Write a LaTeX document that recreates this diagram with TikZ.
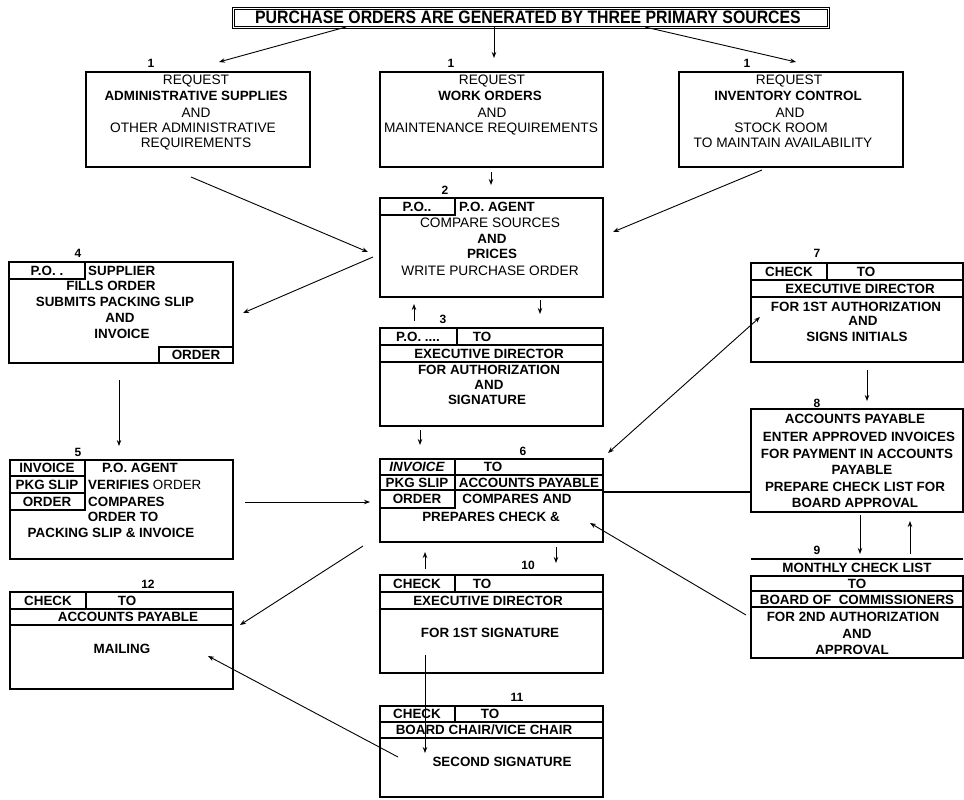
\documentclass[tikz,border=0pt]{standalone}
\usepackage{fontspec}
\setmainfont{Liberation Sans}
\usetikzlibrary{arrows.meta}
\newcommand\bxat[5]{\node[bx,minimum width=#4pt,minimum height=#5pt] (#1) at (#2,#3) {};}
\newcommand\clat[5]{\node[cellbox,minimum width=#4pt,minimum height=#5pt] (#1) at (#2,#3) {};}
\begin{document}
\begin{tikzpicture}[x=1pt,y=-1pt,
  bx/.style={draw, line width=1.4pt, inner sep=0pt, outer sep=0pt, anchor=north west},
  cellbox/.style={draw, line width=1.1pt, inner sep=0pt, outer sep=0pt, anchor=north west},
  t/.style={font=\fontsize{13.4}{15}\selectfont\bfseries, inner sep=0pt, text height=9.5pt, text depth=0pt},
  tr/.style={font=\fontsize{13.7}{15}\selectfont, inner sep=0pt, text height=9.7pt, text depth=0pt},
  lbl/.style={font=\fontsize{12}{14}\selectfont\bfseries, inner sep=0pt, text height=8.6pt, text depth=0pt},
  arr/.style={line width=0.9pt, -{Stealth[length=6pt,width=4.5pt]}},
  darr/.style={line width=0.9pt, {Stealth[length=6pt,width=4.5pt]}-{Stealth[length=6pt,width=4.5pt]}},
]
\fill[white] (0,0) rectangle (964,800);
\useasboundingbox (0,0) rectangle (964,800);

% ---------- title ----------
\node[draw, double, double distance=1.2pt, line width=0.9pt, anchor=north west, minimum width=595pt, minimum height=19pt, inner sep=0pt] (title) at (233,8) {};
\node[inner sep=0pt, font=\fontsize{18}{18}\selectfont\bfseries] (titletxt) at (528,17.5) {\scalebox{0.88}[1]{PURCHASE ORDERS ARE GENERATED BY THREE PRIMARY SOURCES}};

% ---------- row 1 ----------
\node[lbl] (l1a) at (151,63) {1};
\node[lbl] (l1b) at (451,63) {1};
\node[lbl] (l1c) at (747,63) {1};
\bxat{b1a}{86}{72}{224}{95}
\bxat{b1b}{380}{72}{223}{95}
\bxat{b1c}{679}{72}{224}{95}
\node[tr] (b1a1) at (196,80) {REQUEST};
\node[t]  (b1a2) at (196,96) {ADMINISTRATIVE SUPPLIES};
\node[tr] (b1a3) at (196,113) {AND};
\node[tr] (b1a4) at (193,128) {OTHER ADMINISTRATIVE};
\node[tr] (b1a5) at (196,143) {REQUIREMENTS};
\node[tr] (b1b1) at (492,80) {REQUEST};
\node[t]  (b1b2) at (490,96) {WORK ORDERS};
\node[tr] (b1b3) at (492,113) {AND};
\node[tr] (b1b4) at (491,128) {MAINTENANCE REQUIREMENTS};
\node[tr] (b1c1) at (789,80) {REQUEST};
\node[t]  (b1c2) at (788,96) {INVENTORY CONTROL};
\node[tr] (b1c3) at (790,113) {AND};
\node[tr] (b1c4) at (781,128) {STOCK ROOM};
\node[tr] (b1c5) at (783,143) {TO MAINTAIN AVAILABILITY};

% ---------- box 2 ----------
\node[lbl] (l2) at (445,190) {2};
\bxat{b2}{380}{198}{223}{99}
\clat{c2}{380}{198}{75}{17}
\node[t] (c2t) at (417,206.5) {P.O..};
\node[t, anchor=west] (b2h) at (459,206.5) {P.O. AGENT};
\node[tr] (b22) at (490,223) {COMPARE SOURCES};
\node[t]  (b23) at (492,239) {AND};
\node[t]  (b24) at (492,254) {PRICES};
\node[tr] (b25) at (490,271) {WRITE PURCHASE ORDER};

% ---------- box 4 ----------
\node[lbl] (l4) at (78,253) {4};
\bxat{b4}{9}{262}{224}{101}
\clat{c4a}{9}{262}{76}{17}
\clat{c4b}{159}{347}{74}{16}
\node[t] (c4at) at (47,270.5) {P.O. .};
\node[t, anchor=west] (b4h) at (88,270.5) {SUPPLIER};
\node[t] (b42) at (111,286) {FILLS ORDER};
\node[t] (b43) at (115,302) {SUBMITS PACKING SLIP};
\node[t] (b44) at (120,318) {AND};
\node[t] (b45) at (122,334) {INVOICE};
\node[t] (c4bt) at (196,355) {ORDER};

% ---------- box 3 ----------
\node[lbl] (l3) at (443,319) {3};
\bxat{b3}{380}{328}{223}{98}
\clat{r3a}{380}{328}{223}{17}
\clat{c3}{380}{328}{77}{17}
\clat{r3b}{380}{345}{223}{17}
\node[t] (c3t) at (418,336.5) {P.O. ....};
\node[t] (b3to) at (482,336.5) {TO};
\node[t] (b32) at (489,353.5) {EXECUTIVE DIRECTOR};
\node[t] (b33) at (489,369.5) {FOR AUTHORIZATION};
\node[t] (b34) at (489,384.5) {AND};
\node[t] (b35) at (487,400) {SIGNATURE};

% ---------- box 7 ----------
\node[lbl] (l7) at (817,253) {7};
\bxat{b7}{751}{263}{212}{99}
\clat{r7a}{751}{263}{212}{17}
\clat{c7}{751}{263}{76}{17}
\clat{r7b}{751}{280}{212}{17}
\node[t] (c7t) at (789,271.5) {CHECK};
\node[t] (b7to) at (866,271.5) {TO};
\node[t] (b72) at (860,288.5) {EXECUTIVE DIRECTOR};
\node[t] (b73) at (856,307) {FOR 1ST AUTHORIZATION};
\node[t] (b74) at (863,321) {AND};
\node[t] (b75) at (857,337) {SIGNS INITIALS};

% ---------- box 8 ----------
\node[lbl] (l8) at (817,403) {8};
\bxat{b8}{751}{409}{212}{103}
\node[t] (b81) at (855,419) {ACCOUNTS PAYABLE};
\node[t] (b82) at (859,437) {ENTER APPROVED INVOICES};
\node[t] (b83) at (857,454) {FOR PAYMENT IN ACCOUNTS};
\node[t] (b84) at (862,470) {PAYABLE};
\node[t] (b85) at (855,487) {PREPARE CHECK LIST FOR};
\node[t] (b86) at (855,503) {BOARD APPROVAL};

% ---------- box 9 ----------
\node[lbl] (l9) at (817,550) {9};
\coordinate (b9l) at (751,559);
\coordinate (b9r) at (963,559);
\draw[line width=1.4pt] (b9l) -- (b9r);
\node[t] (b9c) at (857,567.5) {MONTHLY CHECK LIST};
\bxat{b9}{751}{576}{212}{82}
\clat{r9a}{751}{576}{212}{15}
\clat{r9b}{751}{591}{212}{16}
\node[t] (b9to) at (857,583.5) {TO};
\node[t] (b92) at (857,599.5) {BOARD OF\ \ COMMISSIONERS};
\node[t] (b93) at (853,617) {FOR 2ND AUTHORIZATION};
\node[t] (b94) at (857,634) {AND};
\node[t] (b95) at (852,650) {APPROVAL};

% ---------- box 5 ----------
\node[lbl] (l5) at (78,452) {5};
\bxat{b5}{10}{460}{223}{99}
\clat{c5a}{10}{460}{75}{16}
\clat{c5b}{10}{476}{75}{17}
\clat{c5c}{10}{493}{75}{17}
\node[t] (c5at) at (47,468) {INVOICE};
\node[t] (c5bt) at (47,484.5) {PKG SLIP};
\node[t] (c5ct) at (47,501.5) {ORDER};
\node[t] (b5h) at (140,468) {P.O. AGENT};
\node[anchor=west, inner sep=0pt, text height=9.5pt, text depth=0pt, font=\fontsize{13.4}{15}\selectfont] (b52) at (88,484.5) {\textbf{VERIFIES} ORDER};
\node[t, anchor=west] (b53) at (88,501.5) {COMPARES};
\node[t] (b54) at (123,517) {ORDER TO};
\node[t] (b55) at (111,533) {PACKING SLIP \& INVOICE};

% ---------- box 6 ----------
\node[lbl] (l6) at (523,451) {6};
\bxat{b6}{380}{459}{223}{83}
\clat{r6a}{380}{475}{223}{15}
\clat{c6a}{380}{459}{75}{16}
\clat{c6b}{380}{475}{75}{15}
\clat{c6c}{380}{490}{75}{18}
\node[t, font=\fontsize{13.4}{15}\selectfont\bfseries\itshape] (c6at) at (417,467) {INVOICE};
\node[t] (c6bt) at (417,482.5) {PKG SLIP};
\node[t] (c6ct) at (417,499) {ORDER};
\node[t] (b6to) at (493,467) {TO};
\node[t] (b62) at (529,482.5) {ACCOUNTS PAYABLE};
\node[t] (b63) at (517,499) {COMPARES AND};
\node[t] (b64) at (491,517) {PREPARES CHECK \&};

% ---------- box 12 ----------
\node[lbl] (l12) at (148,584) {12};
\bxat{b12}{10}{592}{223}{97}
\clat{r12a}{10}{592}{223}{17}
\clat{c12}{10}{592}{76}{17}
\clat{r12b}{10}{609}{223}{16}
\node[t] (c12t) at (48,600.5) {CHECK};
\node[t] (b12to) at (127,600.5) {TO};
\node[t] (b122) at (128,617) {ACCOUNTS PAYABLE};
\node[t] (b123) at (122,649) {MAILING};

% ---------- box 10 ----------
\node[lbl] (l10) at (528,565) {10};
\bxat{b10}{380}{575}{223}{98}
\clat{r10a}{380}{575}{223}{17}
\clat{c10}{380}{575}{75}{17}
\clat{r10b}{380}{592}{223}{17}
\node[t] (c10t) at (417,583.5) {CHECK};
\node[t] (b10to) at (482,583.5) {TO};
\node[t] (b102) at (488,600.5) {EXECUTIVE DIRECTOR};
\node[t] (b103) at (490,633) {FOR 1ST SIGNATURE};

% ---------- box 11 ----------
\node[lbl] (l11) at (517,697) {11};
\bxat{b11}{380}{706}{223}{91}
\clat{r11a}{380}{706}{223}{16}
\clat{c11}{380}{706}{75}{16}
\clat{r11b}{380}{722}{223}{16}
\node[t] (c11t) at (417,714) {CHECK};
\node[t] (b11to) at (490,714) {TO};
\node[t] (b112) at (484,730) {BOARD CHAIR/VICE CHAIR};
\node[t] (b113) at (502,762) {SECOND SIGNATURE};

% ---------- connector end points ----------
\coordinate (pa1) at (346,27);  \coordinate (pa2) at (219,62);
\coordinate (pb1) at (494,27);  \coordinate (pb2) at (494,58);
\coordinate (pc1) at (645,27);  \coordinate (pc2) at (796,62);
\coordinate (pd1) at (191,177); \coordinate (pd2) at (368,252);
\coordinate (pe1) at (491,172); \coordinate (pe2) at (491,185);
\coordinate (pf1) at (762,170); \coordinate (pf2) at (613,232);
\coordinate (pg1) at (373,257); \coordinate (pg2) at (243,313);
\coordinate (ph1) at (414,321); \coordinate (ph2) at (414,304);
\coordinate (pi1) at (540,300); \coordinate (pi2) at (540,314);
\coordinate (pj1) at (119,380); \coordinate (pj2) at (119,446);
\coordinate (pk1) at (245,502); \coordinate (pk2) at (370,502);
\coordinate (pl1) at (420,430); \coordinate (pl2) at (420,445);
\coordinate (pm1) at (608,453); \coordinate (pm2) at (760,317);
\coordinate (pn1) at (867,370); \coordinate (pn2) at (867,401);
\coordinate (po1) at (603,492); \coordinate (po2) at (751,492);
\coordinate (pp1) at (860,515); \coordinate (pp2) at (860,554);
\coordinate (pq1) at (910,554); \coordinate (pq2) at (910,521);
\coordinate (pr1) at (746,615); \coordinate (pr2) at (590,523);
\coordinate (ps1) at (363,546); \coordinate (ps2) at (240,625);
\coordinate (pt1) at (425,569); \coordinate (pt2) at (425,552);
\coordinate (pu1) at (556,547); \coordinate (pu2) at (556,563);
\coordinate (pv1) at (425,655); \coordinate (pv2) at (425,753);
\coordinate (pw1) at (398,757); \coordinate (pw2) at (208,656);

\draw[arr] (pa1) -- (pa2);
\draw[arr] (pb1) -- (pb2);
\draw[arr] (pc1) -- (pc2);
\draw[arr] (pd1) -- (pd2);
\draw[arr] (pe1) -- (pe2);
\draw[arr] (pf1) -- (pf2);
\draw[arr] (pg1) -- (pg2);
\draw[arr] (ph1) -- (ph2);
\draw[arr] (pi1) -- (pi2);
\draw[arr] (pj1) -- (pj2);
\draw[arr] (pk1) -- (pk2);
\draw[arr] (pl1) -- (pl2);
\draw[darr] (pm1) -- (pm2);
\draw[arr] (pn1) -- (pn2);
\draw[line width=1.8pt] (po1) -- (po2);
\draw[arr] (pp1) -- (pp2);
\draw[arr] (pq1) -- (pq2);
\draw[arr] (pr1) -- (pr2);
\draw[arr] (ps1) -- (ps2);
\draw[arr] (pt1) -- (pt2);
\draw[arr] (pu1) -- (pu2);
\draw[arr] (pv1) -- (pv2);
\draw[arr] (pw1) -- (pw2);
\end{tikzpicture}
\end{document}
